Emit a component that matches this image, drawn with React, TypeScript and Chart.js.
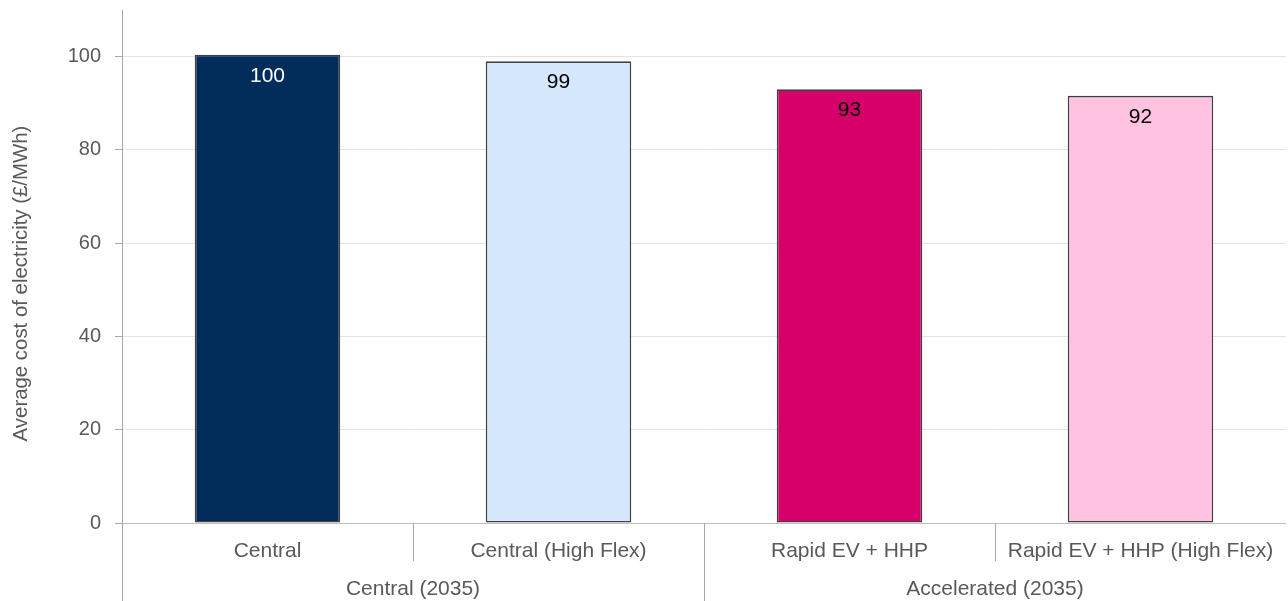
import React, { useEffect, useRef } from "react";
import { Chart, registerables } from "chart.js";

Chart.register(...registerables);

const categories = ["Central", "Central (High Flex)", "Rapid EV + HHP", "Rapid EV + HHP (High Flex)"];
const groups = ["Central (2035)", "Accelerated (2035)"];
const groupSizes = [2, 2];
const values = [100.4, 99.0, 93.0, 91.6];
const valueLabels = ["100", "99", "93", "92"];
const barColors = ["#022D5B", "#D5E8FD", "#D7006B", "#FFC2E0"];
const valueLabelColors = ["#FFFFFF", "#000000", "#000000", "#000000"];
const yTicks = [0, 20, 40, 60, 80, 100];
const yTitle = "Average cost of electricity (£/MWh)";

const FONT = "'Liberation Sans', Arial, sans-serif";
const TEXT = "#595959";
const AXIS = "#A6A6A6";

const labelsPlugin = {
  id: "groupedLabels",
  afterDatasetsDraw(chart: any) {
    const ctx = chart.ctx;
    const meta = chart.getDatasetMeta(0);
    ctx.save();
    ctx.font = `21px ${FONT}`;
    ctx.textAlign = "center";
    ctx.textBaseline = "middle";
    meta.data.forEach((bar: any, i: number) => {
      ctx.fillStyle = valueLabelColors[i];
      ctx.fillText(valueLabels[i], bar.x, bar.y + 21);
    });
    ctx.restore();
  },
  afterDraw(chart: any) {
    const ctx = chart.ctx;
    const xs = chart.scales.x;
    const area = chart.chartArea;
    const bottom = area.bottom;
    const H = chart.height;
    ctx.save();
    ctx.strokeStyle = AXIS;
    ctx.lineWidth = 1;
    const px = (i: number) => xs.getPixelForValue(i);
    const half = (px(1) - px(0)) / 2;
    const line = (x: number, y1: number, y2: number) => {
      const xx = Math.round(x) + 0.5;
      ctx.beginPath();
      ctx.moveTo(xx, y1);
      ctx.lineTo(xx, y2);
      ctx.stroke();
    };
    // left axis extension
    line(area.left - 0.5, bottom, H);
    // separators
    let idx = 0;
    groups.forEach((g, gi) => {
      const start = idx;
      const end = idx + groupSizes[gi] - 1;
      for (let k = start; k < end; k++) {
        line(px(k) + half - 0.5, bottom, bottom + 38);
      }
      if (gi < groups.length - 1) {
        line(px(end) + half - 0.5, bottom, H);
      }
      idx += groupSizes[gi];
    });
    // category labels
    ctx.fillStyle = TEXT;
    ctx.font = `21px ${FONT}`;
    ctx.textAlign = "center";
    ctx.textBaseline = "middle";
    categories.forEach((c, i) => {
      ctx.fillText(c, px(i), bottom + 28);
    });
    idx = 0;
    groups.forEach((g, gi) => {
      const start = idx;
      const end = idx + groupSizes[gi] - 1;
      const cx = (px(start) - half + px(end) + half) / 2;
      ctx.fillText(g, cx, bottom + 66);
      idx += groupSizes[gi];
    });
    // y axis title
    ctx.save();
    ctx.font = `20.4px ${FONT}`;
    ctx.textAlign = "center";
    ctx.textBaseline = "alphabetic";
    ctx.translate(27, 283.5);
    ctx.rotate(-Math.PI / 2);
    ctx.fillText(yTitle, 0, 0);
    ctx.restore();
    ctx.restore();
  },
};

export default function App() {
  const ref = useRef<HTMLCanvasElement>(null);
  useEffect(() => {
    document.body.style.margin = "0";
    const chart = new Chart(ref.current as HTMLCanvasElement, {
      type: "bar",
      data: {
        labels: categories,
        datasets: [
          {
            data: values,
            backgroundColor: barColors,
            borderColor: "#404040",
            borderWidth: 1.6,
            borderSkipped: false,
            barPercentage: 0.5,
            categoryPercentage: 1.0,
          },
        ],
      },
      options: {
        animation: false,
        responsive: false,
        maintainAspectRatio: false,
        layout: { padding: { top: 10, bottom: 78, right: 2, left: 0 } },
        plugins: { legend: { display: false }, tooltip: { enabled: false } },
        scales: {
          x: { display: false },
          y: {
            min: 0,
            max: 110,
            afterBuildTicks: (scale: any) => {
              scale.ticks = yTicks.map((v) => ({ value: v }));
            },
            afterFit: (scale: any) => {
              scale.width = 122;
              scale.paddingTop = 0;
              scale.paddingBottom = 0;
            },
            border: { display: true, color: AXIS, width: 1 },
            grid: {
              color: (c: any) => (c.tick && c.tick.value === 0 ? "#BFBFBF" : "#E3E3E3"),
              tickColor: AXIS,
              tickLength: 7,
              lineWidth: 1,
            },
            ticks: {
              padding: 14,
              color: TEXT,
              font: { family: FONT, size: 20 },
              callback: (v: any) => String(v),
            },
            title: { display: false },
          },
        },
      },
      plugins: [labelsPlugin],
    });
    return () => chart.destroy();
  }, []);
  return (
    <div style={{ width: 1288, height: 601 }}>
      <canvas ref={ref} width={1288} height={601} style={{ display: "block" }} />
    </div>
  );
}
